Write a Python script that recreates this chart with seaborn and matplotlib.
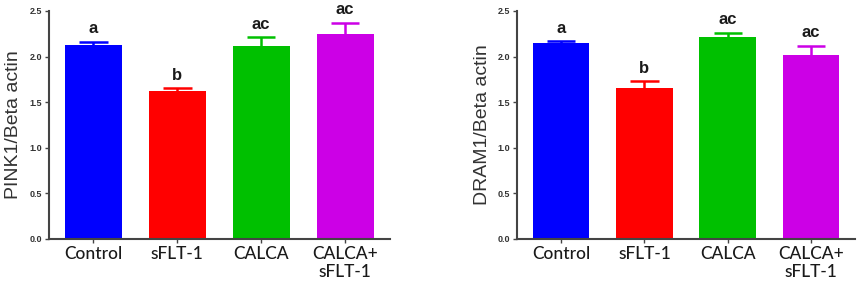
import numpy as np
import pandas as pd
import matplotlib
matplotlib.use('Agg')
import matplotlib.pyplot as plt
import seaborn as sns

# groups and bar colours
groups = ['Control', 'sFLT-1', 'CALCA', 'CALCA+\nsFLT-1']
colors = ['#0000FF', '#FF0000', '#00C000', '#CC00E6']

# PINK1 / beta actin
pink1_mean = [2.13, 1.62, 2.12, 2.25]
pink1_sem = [0.03, 0.03, 0.09, 0.12]
pink1_letters = ['a', 'b', 'ac', 'ac']

# DRAM1 / beta actin
dram1_mean = [2.15, 1.65, 2.21, 2.02]
dram1_sem = [0.02, 0.08, 0.05, 0.10]
dram1_letters = ['a', 'b', 'ac', 'ac']

sns.set_style('white')
plt.rcParams['font.family'] = ['Liberation Sans', 'DejaVu Sans']

fig = plt.figure(figsize=(8.58, 2.95), dpi=100)
ax1 = fig.add_axes([0.057, 0.19, 0.397, 0.773])
ax2 = fig.add_axes([0.6026, 0.19, 0.394, 0.773])


def draw_panel(ax, means, sems, letters, ylabel):
    df = pd.DataFrame({'group': groups, 'value': means})
    sns.barplot(data=df, x='group', y='value', hue='group', palette=colors,
                saturation=1, legend=False, width=0.68, ax=ax, errorbar=None,
                edgecolor='none')
    x = np.arange(len(groups))
    tops = np.array(means) + np.array(sems)
    # upper error bars only, same colour as the bar
    ax.vlines(x, means, tops, colors=colors, linewidth=1.8)
    ax.hlines(tops, x - 0.17, x + 0.17, colors=colors, linewidth=1.8)
    for i in range(len(groups)):
        ax.text(x[i], tops[i] + 0.06, letters[i], ha='center',
                va='bottom', fontsize=12, fontweight='bold', color='#1a1a1a')
    ax.set_ylim(0, 2.5)
    ax.set_xlim(-0.53, 3.53)
    ax.set_yticks([0, 0.5, 1.0, 1.5, 2.0, 2.5])
    ax.set_yticklabels(['0.0', '0.5', '1.0', '1.5', '2.0', '2.5'],
                       fontsize=6.5, fontweight='bold', color='#333333')
    ax.set_xticks(x)
    ax.set_xticklabels(groups, fontsize=12.5, color='#1a1a1a', family='Lato',
                       fontweight='medium', linespacing=1.15)
    ax.set_xlabel('')
    ax.set_ylabel(ylabel, fontsize=14, color='#333333', labelpad=5)
    sns.despine(ax=ax)
    for s in ['left', 'bottom']:
        ax.spines[s].set_color('#444444')
        ax.spines[s].set_linewidth(1.5)
    ax.tick_params(axis='both', which='major', direction='out', length=3,
                   width=1, color='#444444', left=True, bottom=True, pad=2)


draw_panel(ax1, pink1_mean, pink1_sem, pink1_letters, 'PINK1/Beta actin')
draw_panel(ax2, dram1_mean, dram1_sem, dram1_letters, 'DRAM1/Beta actin')

fig.savefig('out.png', dpi=100)
